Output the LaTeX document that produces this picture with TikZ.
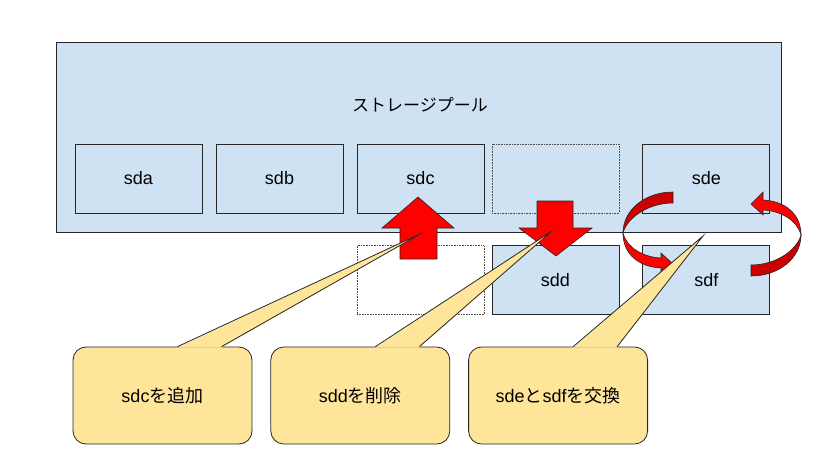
\documentclass[tikz,border=0pt]{standalone}
\usepackage{fontspec}
\setmainfont{Liberation Sans}
\newfontfamily\jp{Noto Sans CJK JP}
\usetikzlibrary{positioning}
\definecolor{poolblue}{HTML}{CFE2F3}
\definecolor{noteyellow}{HTML}{FFE599}
\definecolor{darkred}{HTML}{CC0000}

\begin{document}
\begin{tikzpicture}[x=1pt, y=-1pt, line width=0.8pt,
  disk/.style={draw=black!85, fill=poolblue, minimum width=127pt, minimum height=69pt, inner sep=0pt, font=\fontsize{18}{21}\selectfont},
  slot/.style={draw=black!70, densely dotted, line width=0.6pt, minimum width=127pt, minimum height=69pt, inner sep=0pt},
  note/.style={draw=black!85, fill=noteyellow, rounded corners=13pt, minimum width=179pt, minimum height=97pt, inner sep=0pt, font=\fontsize{18}{21}\selectfont},
  bigarrow/.style={draw=black!85, fill=red, line width=0.6pt, line join=miter}]

  \useasboundingbox (0,0) rectangle (833,468);

  % Define nodes
  \node[draw=black!85, fill=poolblue, minimum width=725pt, minimum height=190pt] (pool) at (418.5,137) {};
  \node[font=\jp\fontsize{17}{20}\selectfont] (title) at (420,105) {ストレージプール};
  \node[disk] (sda) at (138.5,178.5) {sda};
  \node[disk, right=13.2pt of sda] (sdb) {sdb};
  \node[disk, right=13.2pt of sdb] (sdc) {sdc};
  \node[slot, right=7.2pt of sdc] (slota) {};
  \node[disk, right=23.2pt of slota] (sde) {sde};
  \node[slot, below=32pt of sdc] (slotb) {};
  \node[disk, below=32pt of slota] (sdd) {sdd};
  \node[disk, below=32pt of sde] (sdf) {sdf};

  % Add and remove
  \draw[bigarrow] (418,197) -- (454,228) -- (437,228) -- (437,259) -- (400,259) -- (400,228) -- (382,228) -- cycle;
  \draw[bigarrow] (537,201) -- (573,201) -- (573,228) -- (592,228) -- (556,256) -- (519,228) -- (537,228) -- cycle;

  % Swap
  \foreach \r in {0,180} {
    \begin{scope}[rotate around={\r:(712,234)}]
      \draw[fill=darkred, draw=black!85, line width=0.6pt] (673,192) .. controls (645,192) and (623,210) .. (623,233)
        .. controls (627,218) and (648,203) .. (673,203) -- cycle;
      \draw[bigarrow] (623,233) .. controls (623,255) and (640,267) .. (661,268) -- (661,276) -- (673,264) -- (661,253)
        -- (661,258) .. controls (643,257) and (627,248) .. (623,233) -- cycle;
    \end{scope}
  }

  % Notes
  \node[note] (add) at (162.5,395.5) {sdc{\jp を追加}};
  \node[note, right=18pt of add] (del) {sdd{\jp を削除}};
  \node[note, right=18pt of del] (swap) {sde{\jp と}sdf{\jp を交換}};
  \coordinate (addtip) at (422,233);
  \coordinate (deltip) at (552,231);
  \coordinate (swaptip) at (703,236);
  \foreach \n/\t in {add/addtip, del/deltip, swap/swaptip} {
    \fill[noteyellow] ([xshift=105pt,yshift=-1pt]\n.north west) -- (\t) -- ([xshift=149pt,yshift=-1pt]\n.north west) -- cycle;
    \draw[black!85] ([xshift=105pt]\n.north west) -- (\t) -- ([xshift=149pt]\n.north west);
  }

\end{tikzpicture}
\end{document}
